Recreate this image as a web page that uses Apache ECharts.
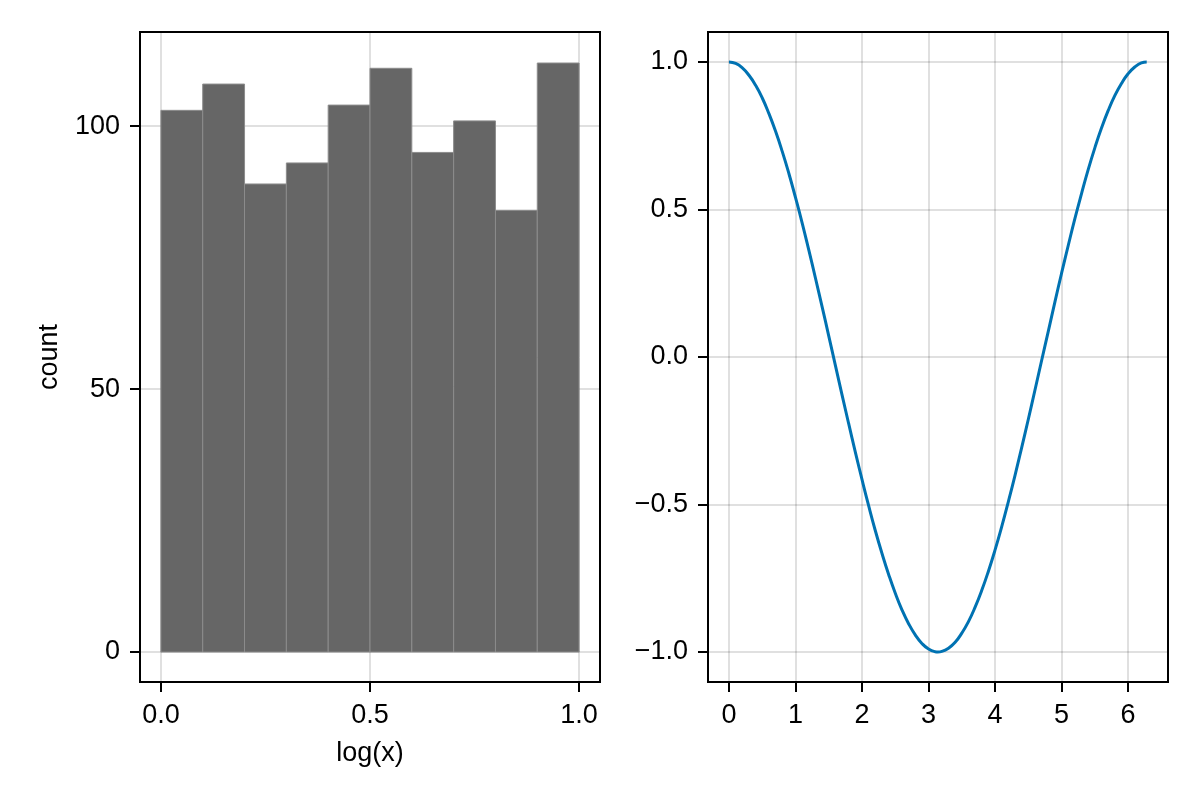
<!DOCTYPE html>
<html>
<head>
  <meta charset="utf-8">
  <title>hist + cos</title>
  <script src="https://cdn.jsdelivr.net/npm/echarts@6/dist/echarts.min.js"></script>
  <style>
    html, body { margin: 0; padding: 0; background: #fff; }
    #chart { width: 1200px; height: 800px; }
  </style>
</head>
<body>
<div id="chart"></div>
<script>
  // histogram bins (left panel)
  const binEdges = [0.0, 0.1, 0.2, 0.3, 0.4, 0.5, 0.6, 0.7, 0.8, 0.9, 1.0];
  const binCounts = [103, 108, 89, 93, 104, 111, 95, 101, 84, 112];
  const histXTicks = [0.0, 0.5, 1.0];
  const histYTicks = [0, 50, 100];

  // curve points
  const curveX = [0, 0.1, 0.2, 0.3, 0.4, 0.5, 0.6, 0.7, 0.8, 0.9, 1.0, 1.1, 1.2, 1.3, 1.4, 1.5,
    1.6, 1.7, 1.8, 1.9, 2.0, 2.1, 2.2, 2.3, 2.4, 2.5, 2.6, 2.7, 2.8, 2.9, 3.0, 3.1, 3.14, 3.2, 3.3,
    3.4, 3.5, 3.6, 3.7, 3.8, 3.9, 4.0, 4.1, 4.2, 4.3, 4.4, 4.5, 4.6, 4.7, 4.8, 4.9, 5.0, 5.1,
    5.2, 5.3, 5.4, 5.5, 5.6, 5.7, 5.8, 5.9, 6.0, 6.1, 6.2, 6.28];
  const curveY = [1.0, 0.995, 0.98, 0.955, 0.921, 0.878, 0.825, 0.765, 0.697, 0.622, 0.54, 0.454,
    0.362, 0.267, 0.17, 0.071, -0.029, -0.129, -0.227, -0.323, -0.416, -0.505, -0.589, -0.666,
    -0.737, -0.801, -0.857, -0.904, -0.942, -0.971, -0.99, -0.999, -1.0, -0.998, -0.987, -0.967, -0.936,
    -0.897, -0.848, -0.791, -0.726, -0.654, -0.575, -0.49, -0.401, -0.307, -0.211, -0.112, -0.012,
    0.087, 0.187, 0.284, 0.378, 0.469, 0.554, 0.635, 0.709, 0.776, 0.835, 0.886, 0.927, 0.96,
    0.983, 0.997, 1.0];
  const curveXTicks = [0, 1, 2, 3, 4, 5, 6];
  const curveYTicks = [-1.0, -0.5, 0.0, 0.5, 1.0];

  const FONT = 'Liberation Sans';
  const FS = 27;

  let histData = binCounts.map(function (c, i) { return [binEdges[i], binEdges[i + 1], c]; });
  let curveData = curveX.map(function (x, i) { return [x, curveY[i]]; });

  function axisCommon(ticks, fmt) {
    return {
      axisLine: { show: false, onZero: false },
      axisTick: { show: true, inside: false, length: 10, customValues: ticks,
        lineStyle: { color: '#000', width: 2 } },
      axisLabel: { show: true, margin: 20, customValues: ticks, formatter: fmt,
        color: '#000', fontFamily: FONT, fontSize: FS },
      splitLine: { show: true, lineStyle: { color: 'rgba(0,0,0,0.12)', width: 2 } },
      nameTextStyle: { color: '#000', fontFamily: FONT, fontSize: FS }
    };
  }

  function fmt1(v) { return v.toFixed(1).replace('-', '\u2212'); }
  function fmt0(v) { return String(Math.round(v)); }

  let myChart = echarts.init(document.getElementById('chart'));

  let option = {
    backgroundColor: '#fff',
    animation: false,
    grid: [
      { left: 140, top: 32, width: 460, height: 650, show: true,
        borderColor: '#000', borderWidth: 2, backgroundColor: 'transparent' },
      { left: 708, top: 32, width: 460, height: 650, show: true,
        borderColor: '#000', borderWidth: 2, backgroundColor: 'transparent' }
    ],
    xAxis: [
      Object.assign(axisCommon(histXTicks, fmt1), {
        type: 'value', gridIndex: 0, min: -0.05, max: 1.05,
        name: 'log(x)', nameLocation: 'middle', nameGap: 58
      }),
      Object.assign(axisCommon(curveXTicks, fmt0), {
        type: 'value', gridIndex: 1, min: -0.316, max: 6.6
      })
    ],
    yAxis: [
      Object.assign(axisCommon(histYTicks, fmt0), {
        type: 'value', gridIndex: 0, min: -5.7, max: 117.9,
        name: 'count', nameLocation: 'middle', nameGap: 77
      }),
      Object.assign(axisCommon(curveYTicks, fmt1), {
        type: 'value', gridIndex: 1, min: -1.1017, max: 1.1017
      })
    ],
    series: [
      {
        type: 'custom',
        xAxisIndex: 0,
        yAxisIndex: 0,
        data: histData,
        encode: { x: [0, 1], y: 2 },
        renderItem: function (params, api) {
          let p0 = api.coord([api.value(0), api.value(2)]);
          let p1 = api.coord([api.value(1), 0]);
          return {
            type: 'rect',
            shape: { x: p0[0], y: p0[1], width: p1[0] - p0[0], height: p1[1] - p0[1] },
            style: { fill: '#666666', stroke: '#8c8c8c', lineWidth: 1 }
          };
        }
      },
      {
        type: 'line',
        xAxisIndex: 1,
        yAxisIndex: 1,
        data: curveData,
        smooth: true,
        showSymbol: false,
        lineStyle: { color: '#0072B2', width: 3 }
      }
    ]
  };
  myChart.setOption(option);
</script>
</body>
</html>
